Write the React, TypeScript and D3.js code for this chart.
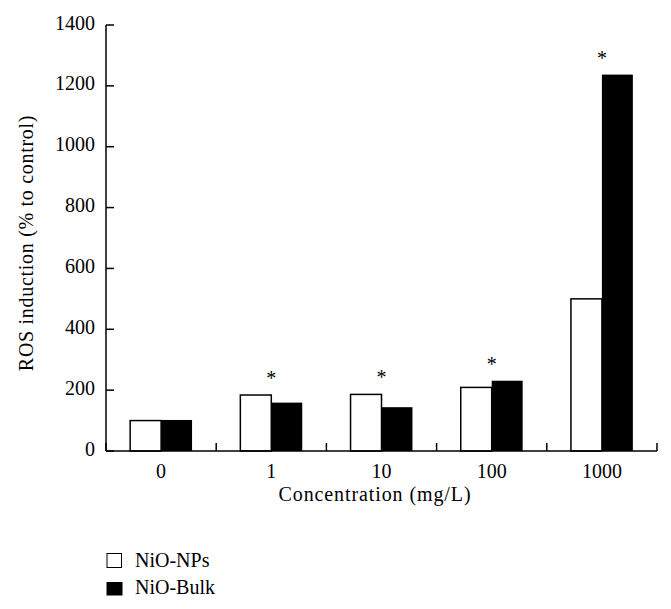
import React from 'react';
import * as d3 from 'd3';

const categories = ['0', '1', '10', '100', '1000'];
const npsValues = [100, 184, 186, 209, 500];
const bulkValues = [102, 159, 144, 231, 1237];
const starred = [false, true, true, true, true];
const yTicks = [0, 200, 400, 600, 800, 1000, 1200, 1400];
const seriesNames = ['NiO-NPs', 'NiO-Bulk'];

const width = 671;
const height = 609;
const margin = { left: 106, right: 14, top: 25, bottom: 158 };
const font = '"Liberation Serif", "DejaVu Serif", serif';

export default function App() {
  const x = d3.scaleBand()
    .domain(categories)
    .range([margin.left, width - margin.right]);

  const y = d3.scaleLinear()
    .domain([0, 1400])
    .range([height - margin.bottom, margin.top]);

  const inner = d3.scaleBand()
    .domain(seriesNames)
    .range([0, x.bandwidth()])
    .paddingInner(0)
    .paddingOuter(0.78);

  const y0 = y(0);
  const boundaries = categories.map((c) => x(c)).concat([width - margin.right]);

  return (
    <div style={{ position: 'absolute', left: 0, top: 0 }}>
      <svg width={width} height={height} style={{ display: 'block', background: '#fff' }}>
        {/* bars */}
        {categories.map((c, i) => {
          const bx = x(c);
          return (
            <g key={c}>
              <rect
                x={bx + inner('NiO-NPs')}
                y={y(npsValues[i])}
                width={inner.bandwidth()}
                height={y0 - y(npsValues[i])}
                fill="#fff"
                stroke="#000"
                strokeWidth={1.5}
              />
              <rect
                x={bx + inner('NiO-Bulk')}
                y={y(bulkValues[i])}
                width={inner.bandwidth()}
                height={y0 - y(bulkValues[i])}
                fill="#000"
              />
              {starred[i] && (
                <text
                  x={bx + x.bandwidth() / 2}
                  y={y(Math.max(npsValues[i], bulkValues[i])) - 10}
                  textAnchor="middle"
                  fontFamily={font}
                  fontSize={20}
                >*</text>
              )}
            </g>
          );
        })}

        {/* y axis */}
        <line x1={margin.left} x2={margin.left} y1={y(1400)} y2={y0} stroke="#000" strokeWidth={1.5} />
        {yTicks.map((t) => (
          <g key={t}>
            <line x1={margin.left} x2={margin.left + 8} y1={y(t)} y2={y(t)} stroke="#000" strokeWidth={1.5} />
            <text x={margin.left - 11} y={y(t) + 4.5} textAnchor="end" fontFamily={font} fontSize={20}>{t}</text>
          </g>
        ))}

        {/* x axis */}
        <line x1={margin.left} x2={width - margin.right} y1={y0} y2={y0} stroke="#000" strokeWidth={1.5} />
        {boundaries.map((b, i) => (
          <line key={i} x1={b} x2={b} y1={y0} y2={y0 - 8} stroke="#000" strokeWidth={1.5} />
        ))}
        {categories.map((c) => (
          <text key={c} x={x(c) + x.bandwidth() / 2} y={y0 + 27} textAnchor="middle" fontFamily={font} fontSize={20}>{c}</text>
        ))}

        {/* axis titles */}
        <text x={375} y={501} textAnchor="middle" fontFamily={font} fontSize={20} letterSpacing={0.9}>Concentration (mg/L)</text>
        <text transform="translate(33,243) rotate(-90)" textAnchor="middle" fontFamily={font} fontSize={20} letterSpacing={0.7}>ROS induction (% to control)</text>

        {/* legend */}
        <rect x={107} y={553.5} width={14.5} height={14} fill="#fff" stroke="#000" strokeWidth={1} />
        <text x={135} y={567} fontFamily={font} fontSize={20}>{seriesNames[0]}</text>
        <rect x={106.5} y={582} width={16} height={13.5} fill="#000" />
        <text x={135} y={594} fontFamily={font} fontSize={20}>{seriesNames[1]}</text>
      </svg>
    </div>
  );
}
